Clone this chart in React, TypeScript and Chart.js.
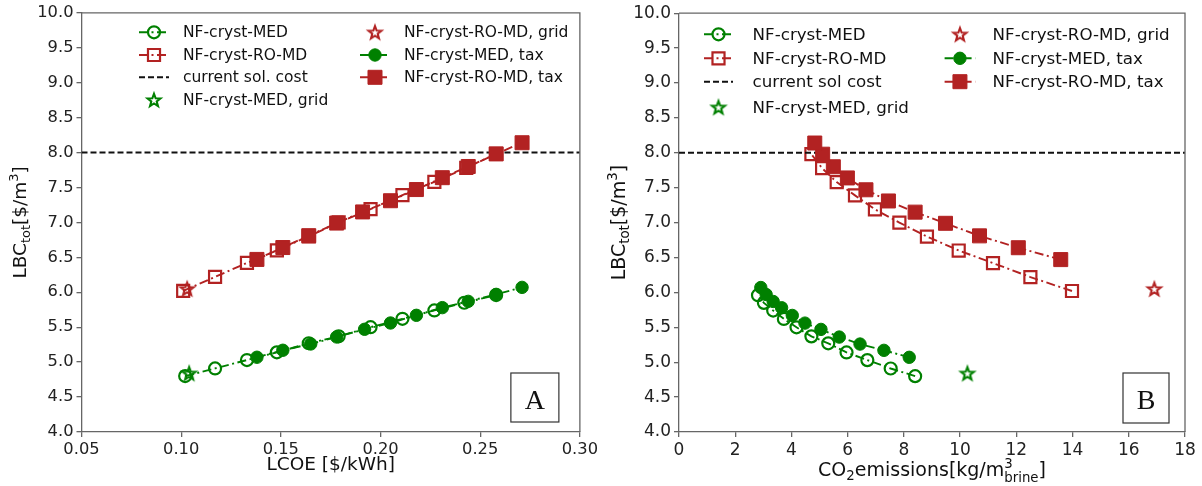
import React, { useEffect, useRef } from "react";
import { Chart, registerables } from "chart.js";

Chart.register(...registerables);

// ---------------- data ----------------
const currentSolCost = 8.0;

const lbcTicks = [4.0, 4.5, 5.0, 5.5, 6.0, 6.5, 7.0, 7.5, 8.0, 8.5, 9.0, 9.5, 10.0];
const lcoeTicks = [0.05, 0.1, 0.15, 0.2, 0.25, 0.3];
const co2Ticks = [0, 2, 4, 6, 8, 10, 12, 14, 16, 18];

// LBC_tot [$/m3]
const lbcMED = [4.8, 4.91, 5.03, 5.14, 5.27, 5.37, 5.5, 5.62, 5.74, 5.85, 5.96];
const lbcROMD = [6.02, 6.22, 6.42, 6.6, 6.8, 7.0, 7.19, 7.39, 7.58, 7.78, 7.98];
const lbcMEDtax = [5.07, 5.17, 5.26, 5.36, 5.47, 5.56, 5.67, 5.78, 5.87, 5.97, 6.07];
const lbcROMDtax = [6.47, 6.64, 6.81, 6.99, 7.15, 7.31, 7.47, 7.64, 7.8, 7.98, 8.14];
const lbcGridMED = [4.84];
const lbcGridROMD = [6.05];

// LCOE [$/kWh]
const lcoeMED = [0.102, 0.117, 0.133, 0.148, 0.164, 0.179, 0.195, 0.211, 0.227, 0.242, 0.258];
const lcoeROMD = [0.101, 0.117, 0.133, 0.148, 0.164, 0.179, 0.195, 0.211, 0.227, 0.243, 0.258];
const lcoeMEDtax = [0.138, 0.151, 0.165, 0.178, 0.192, 0.205, 0.218, 0.231, 0.244, 0.258, 0.271];
const lcoeROMDtax = [0.138, 0.151, 0.164, 0.178, 0.191, 0.205, 0.218, 0.231, 0.244, 0.258, 0.271];
const lcoeGridMED = [0.104];
const lcoeGridROMD = [0.103];

// CO2 emissions [kg/m3 brine]
const co2MED = [8.4, 7.53, 6.7, 5.96, 5.31, 4.71, 4.18, 3.73, 3.35, 3.02, 2.81];
const co2ROMD = [13.98, 12.5, 11.17, 9.95, 8.82, 7.84, 6.97, 6.26, 5.61, 5.09, 4.71];
const co2MEDtax = [8.19, 7.29, 6.44, 5.7, 5.05, 4.48, 4.03, 3.65, 3.35, 3.1, 2.91];
const co2ROMDtax = [13.58, 12.07, 10.69, 9.48, 8.4, 7.45, 6.65, 5.99, 5.49, 5.11, 4.83];
const co2GridMED = [10.26];
const co2GridROMD = [16.91];

const labelsA = [
  "NF-cryst-MED",
  "NF-cryst-RO-MD",
  "current sol. cost",
  "NF-cryst-MED, grid",
  "NF-cryst-RO-MD, grid",
  "NF-cryst-MED, tax",
  "NF-cryst-RO-MD, tax",
];
const labelsB = [
  "NF-cryst-MED",
  "NF-cryst-RO-MD",
  "current sol cost",
  "NF-cryst-MED, grid",
  "NF-cryst-RO-MD, grid",
  "NF-cryst-MED, tax",
  "NF-cryst-RO-MD, tax",
];

// ---------------- styling / layout ----------------
const GREEN = "#008000";
const RED = "#b22222";
const SPINE = "#666";
const FAMILY = '"DejaVu Sans", sans-serif';
const DASHDOT = [9, 3.5, 2, 3.5];
const DASHED = [6, 3];
const LINE_W = 1.9;

type Seg = { text?: string; sub?: string; sup?: string };

const panelA = {
  xs: [lcoeMED, lcoeROMD, null, lcoeGridMED, lcoeGridROMD, lcoeMEDtax, lcoeROMDtax],
  xTicks: lcoeTicks,
  xDec: 2,
  labels: labelsA,
  padRight: 19.3,
  yWidth: 81.5,
  xHeight: 54,
  tickFont: 16.3,
  legendFont: 15.5,
  legendCols: [
    [139, 169, 183],
    [360, 390, 404],
  ],
  legendRows: [32.3, 55, 77.3, 100],
  xTitle: [{ text: "LCOE [$/kWh]" }] as Seg[],
  xTitleY: 463,
  yTitleX: 19,
  titleFont: 18.5,
  box: { right: 21, bottom: 10, w: 48, h: 49, letter: "A" },
};

const panelB = {
  xs: [co2MED, co2ROMD, null, co2GridMED, co2GridROMD, co2MEDtax, co2ROMDtax],
  xTicks: co2Ticks,
  xDec: 0,
  labels: labelsB,
  padRight: 17,
  yWidth: 78,
  xHeight: 54,
  tickFont: 17,
  legendFont: 16.7,
  legendCols: [
    [103, 132, 151.6],
    [343.6, 374.3, 391.6],
  ],
  legendRows: [34.3, 58.3, 81.7, 107.3],
  xTitle: [
    { text: "CO", sub: "2" },
    { text: "emissions[kg/m", sup: "3", sub: "brine" },
    { text: "]" },
  ] as Seg[],
  xTitleY: 469,
  yTitleX: 17,
  titleFont: 19,
  box: { right: 16, bottom: 9, w: 46, h: 50, letter: "B" },
};

const yTitle: Seg[] = [{ text: "LBC", sub: "tot" }, { text: "[$/m", sup: "3" }, { text: "]" }];

function makeStar(color: string): HTMLCanvasElement {
  const size = 20;
  const c = document.createElement("canvas");
  c.width = size;
  c.height = size;
  const ctx = c.getContext("2d")!;
  const R = 6.8;
  const r = R * 0.42;
  ctx.beginPath();
  for (let i = 0; i < 10; i++) {
    const rad = i % 2 === 0 ? R : r;
    const a = -Math.PI / 2 + (i * Math.PI) / 5;
    ctx.lineTo(size / 2 + rad * Math.cos(a), size / 2 + 0.6 + rad * Math.sin(a));
  }
  ctx.closePath();
  ctx.strokeStyle = color;
  ctx.lineWidth = 2.1;
  ctx.lineJoin = "miter";
  ctx.stroke();
  return c;
}

function drawRich(
  ctx: CanvasRenderingContext2D,
  segs: Seg[],
  cx: number,
  cy: number,
  size: number,
  rotate: boolean
) {
  const big = `${size}px ${FAMILY}`;
  const small = `${size * 0.7}px ${FAMILY}`;
  const w = (s: string, f: string) => {
    ctx.font = f;
    return ctx.measureText(s).width;
  };
  const segW = (g: Seg) =>
    (g.text ? w(g.text, big) : 0) +
    Math.max(g.sub ? w(g.sub, small) : 0, g.sup ? w(g.sup, small) : 0);
  const total = segs.reduce((a, g) => a + segW(g), 0);
  ctx.save();
  ctx.translate(cx, cy);
  if (rotate) ctx.rotate(-Math.PI / 2);
  ctx.fillStyle = "#111";
  ctx.textBaseline = "alphabetic";
  ctx.textAlign = "left";
  const base = size * 0.36;
  let x = -total / 2;
  for (const g of segs) {
    if (g.text) {
      ctx.font = big;
      ctx.fillText(g.text, x, base);
      x += w(g.text, big);
    }
    ctx.font = small;
    let adv = 0;
    if (g.sup) {
      ctx.fillText(g.sup, x, base - size * 0.42);
      adv = Math.max(adv, w(g.sup, small));
    }
    if (g.sub) {
      ctx.fillText(g.sub, x, base + size * (g.sup ? 0.3 : 0.22));
      adv = Math.max(adv, w(g.sub, small));
    }
    x += adv;
  }
  ctx.restore();
}

function drawMarker(ctx: CanvasRenderingContext2D, ds: any, x: number, y: number) {
  const st = ds.pointStyle;
  const r = ds.pointRadius;
  if (!r) return;
  ctx.save();
  if (typeof st === "object") {
    ctx.drawImage(st, x - st.width / 2, y - st.height / 2);
    ctx.restore();
    return;
  }
  ctx.beginPath();
  if (st === "rect") {
    const h = r * Math.SQRT1_2;
    ctx.rect(x - h, y - h, 2 * h, 2 * h);
  } else {
    ctx.arc(x, y, r, 0, Math.PI * 2);
  }
  ctx.fillStyle = ds.pointBackgroundColor;
  ctx.fill();
  ctx.lineWidth = ds.pointBorderWidth;
  ctx.strokeStyle = ds.pointBorderColor;
  ctx.stroke();
  ctx.restore();
}

const pts = (xs: number[], ys: number[]) => xs.map((x, i) => ({ x, y: ys[i] }));

function Panel({ cfg }: { cfg: typeof panelA }) {
  const ref = useRef<HTMLCanvasElement>(null);
  useEffect(() => {
    const canvas = ref.current!;
    const starG = makeStar(GREEN);
    const starR = makeStar(RED);
    const xs = cfg.xs as (number[] | null)[];
    const xMin = cfg.xTicks[0];
    const xMax = cfg.xTicks[cfg.xTicks.length - 1];
    const none = "rgba(0,0,0,0)";
    const datasets: any[] = [
      {
        label: cfg.labels[0],
        data: pts(xs[0]!, lbcMED),
        showLine: true,
        borderColor: GREEN,
        borderWidth: LINE_W,
        borderDash: DASHDOT,
        pointStyle: "circle",
        pointRadius: 6,
        pointBorderWidth: 2.2,
        pointBorderColor: GREEN,
        pointBackgroundColor: none,
        order: 10,
      },
      {
        label: cfg.labels[1],
        data: pts(xs[1]!, lbcROMD),
        showLine: true,
        borderColor: RED,
        borderWidth: LINE_W,
        borderDash: DASHDOT,
        pointStyle: "rect",
        pointRadius: 8.5,
        pointBorderWidth: 2.2,
        pointBorderColor: RED,
        pointBackgroundColor: none,
        order: 9,
      },
      {
        label: cfg.labels[2],
        data: [
          { x: xMin, y: currentSolCost },
          { x: xMax, y: currentSolCost },
        ],
        showLine: true,
        borderColor: "#111",
        borderWidth: 2,
        borderDash: DASHED,
        pointRadius: 0,
        order: 8,
      },
      {
        label: cfg.labels[3],
        data: pts(xs[3]!, lbcGridMED),
        showLine: false,
        pointStyle: starG,
        pointRadius: 7,
        order: 7,
      },
      {
        label: cfg.labels[4],
        data: pts(xs[4]!, lbcGridROMD),
        showLine: false,
        pointStyle: starR,
        pointRadius: 7,
        order: 6,
      },
      {
        label: cfg.labels[5],
        data: pts(xs[5]!, lbcMEDtax),
        showLine: true,
        borderColor: GREEN,
        borderWidth: LINE_W,
        borderDash: DASHDOT,
        pointStyle: "circle",
        pointRadius: 6.2,
        pointBorderWidth: 1,
        pointBorderColor: GREEN,
        pointBackgroundColor: GREEN,
        order: 5,
      },
      {
        label: cfg.labels[6],
        data: pts(xs[6]!, lbcROMDtax),
        showLine: true,
        borderColor: RED,
        borderWidth: LINE_W,
        borderDash: DASHDOT,
        pointStyle: "rect",
        pointRadius: 9.9,
        pointBorderWidth: 1,
        pointBorderColor: RED,
        pointBackgroundColor: RED,
        order: 4,
      },
    ];

    const legendItems = [
      { ds: 0, col: 0, row: 0 },
      { ds: 1, col: 0, row: 1 },
      { ds: 2, col: 0, row: 2 },
      { ds: 3, col: 0, row: 3 },
      { ds: 4, col: 1, row: 0 },
      { ds: 5, col: 1, row: 1 },
      { ds: 6, col: 1, row: 2 },
    ];

    const decor = {
      id: "decor",
      afterDraw(chart: any) {
        const ctx: CanvasRenderingContext2D = chart.ctx;
        const a = chart.chartArea;
        ctx.save();
        // top & right spines
        ctx.strokeStyle = SPINE;
        ctx.lineWidth = 1.3;
        ctx.beginPath();
        ctx.moveTo(a.left, a.top);
        ctx.lineTo(a.right, a.top);
        ctx.lineTo(a.right, a.bottom);
        ctx.stroke();

        // letter box
        const b = cfg.box;
        const bx = a.right - b.right - b.w;
        const by = a.bottom - b.bottom - b.h;
        ctx.strokeStyle = "#333";
        ctx.lineWidth = 1.2;
        ctx.strokeRect(bx, by, b.w, b.h);
        ctx.fillStyle = "#111";
        ctx.font = `28px "Liberation Serif", "DejaVu Serif", serif`;
        ctx.textAlign = "center";
        ctx.textBaseline = "alphabetic";
        ctx.fillText(b.letter, bx + b.w / 2, by + b.h / 2 + 11);

        // axis titles
        drawRich(ctx, cfg.xTitle, (a.left + a.right) / 2, cfg.xTitleY, cfg.titleFont, false);
        drawRich(ctx, yTitle, cfg.yTitleX, (a.top + a.bottom) / 2, cfg.titleFont, true);

        // legend
        for (const it of legendItems) {
          const ds = chart.data.datasets[it.ds];
          const y = cfg.legendRows[it.row];
          const [hx0, hx1, tx] = cfg.legendCols[it.col];
          if (ds.showLine) {
            ctx.save();
            ctx.strokeStyle = ds.borderColor;
            ctx.lineWidth = ds.borderWidth;
            ctx.setLineDash(ds.borderDash || []);
            ctx.beginPath();
            ctx.moveTo(hx0, y);
            ctx.lineTo(hx1, y);
            ctx.stroke();
            ctx.restore();
          }
          drawMarker(ctx, ds, (hx0 + hx1) / 2, y);
          ctx.fillStyle = "#111";
          ctx.font = `${cfg.legendFont}px ${FAMILY}`;
          ctx.textAlign = "left";
          ctx.textBaseline = "middle";
          ctx.fillText(ds.label, tx, y + 1);
        }
        ctx.restore();
      },
    };

    const tickFont = { family: FAMILY, size: cfg.tickFont };
    const chart = new Chart(canvas, {
      type: "scatter",
      data: { datasets },
      options: {
        responsive: false,
        animation: false,
        events: [],
        layout: { padding: { left: 0, right: cfg.padRight, top: 12, bottom: 0 } },
        plugins: { legend: { display: false }, tooltip: { enabled: false } },
        scales: {
          x: {
            type: "linear",
            min: xMin,
            max: xMax,
            afterFit: (s: any) => {
              s.height = cfg.xHeight;
            },
            afterBuildTicks: (s: any) => {
              s.ticks = cfg.xTicks.map((v) => ({ value: v }));
            },
            ticks: {
              autoSkip: false,
              maxRotation: 0,
              padding: 3,
              color: "#222",
              font: tickFont,
              callback: (v: any) => Number(v).toFixed(cfg.xDec),
            },
            grid: { drawOnChartArea: false, drawTicks: true, tickLength: 5, color: SPINE, lineWidth: 1.3 },
            border: { display: true, color: SPINE, width: 1.3 },
          },
          y: {
            type: "linear",
            min: lbcTicks[0],
            max: lbcTicks[lbcTicks.length - 1],
            afterFit: (s: any) => {
              s.width = cfg.yWidth;
            },
            afterBuildTicks: (s: any) => {
              s.ticks = lbcTicks.map((v) => ({ value: v }));
            },
            ticks: {
              autoSkip: false,
              padding: 3,
              color: "#222",
              font: tickFont,
              callback: (v: any) => Number(v).toFixed(1),
            },
            grid: { drawOnChartArea: false, drawTicks: true, tickLength: 5, color: SPINE, lineWidth: 1.3 },
            border: { display: true, color: SPINE, width: 1.3 },
          },
        },
      } as any,
      plugins: [decor],
    });
    return () => chart.destroy();
  }, [cfg]);
  return (
    <canvas
      ref={ref}
      width={601}
      height={486}
      style={{ display: "block", width: 601, height: 486 }}
    />
  );
}

export default function App() {
  return (
    <div
      style={{
        position: "fixed",
        left: 0,
        top: 0,
        width: 1202,
        height: 486,
        display: "flex",
        background: "#fff",
      }}
    >
      <Panel cfg={panelA} />
      <Panel cfg={panelB as any} />
    </div>
  );
}
